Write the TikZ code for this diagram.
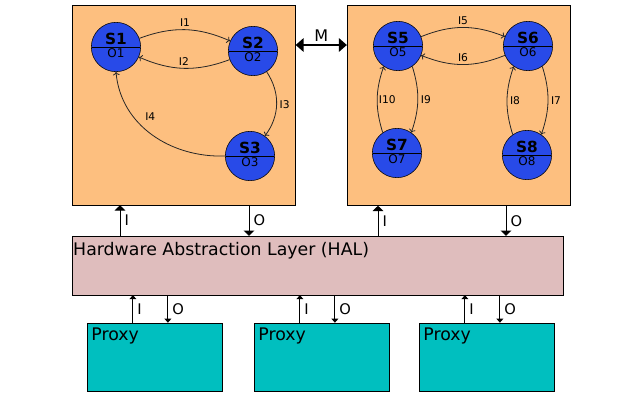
\documentclass[tikz,border=0pt]{standalone}
\usepackage{fontspec}
\setmainfont{DejaVu Sans}
\usepackage{tikz}
\usetikzlibrary{arrows.meta,shapes.multipart}
\definecolor{boxorange}{RGB}{253,191,127}
\definecolor{halpink}{RGB}{223,189,189}
\definecolor{proxycyan}{RGB}{0,191,191}
\definecolor{stateblue}{RGB}{40,74,232}
\tikzstyle{state}=[circle split,draw=black,fill=stateblue,thin,minimum size=37pt,inner sep=1.2pt,font=\fontsize{9}{9}\selectfont]
\tikzstyle{box}=[rectangle,draw=black,fill=boxorange,thin,minimum width=167pt,minimum height=150pt,inner sep=0pt]
\tikzstyle{halbox}=[rectangle,draw=black,fill=halpink,thin,minimum width=368pt,minimum height=44pt,inner sep=0pt]
\tikzstyle{proxybox}=[rectangle,draw=black,fill=proxycyan,thin,minimum width=101pt,minimum height=51pt,inner sep=0pt]
\tikzstyle{boxtext}=[anchor=north west,font=\fontsize{13}{13}\selectfont]
\tikzstyle{arr}=[-{To[length=2.5pt,width=5pt]},draw=black!85,line width=0.6pt]
\tikzstyle{elabel}=[font=\fontsize{8}{8}\selectfont,inner sep=2pt]
\tikzstyle{ioarr}=[-{Triangle[length=4pt,width=8pt]},draw=black,line width=0.75pt]
\tikzstyle{pioarr}=[-{Triangle[length=3pt,width=5pt]},draw=black,line width=0.75pt]
\tikzstyle{iolabel}=[font=\fontsize{11}{11}\selectfont,inner sep=3pt]
\tikzstyle{marr}=[{Triangle[length=6pt,width=10pt]}-{Triangle[length=6pt,width=10pt]},draw=black,line width=1.5pt]

\begin{document}
\begin{tikzpicture}[x=0.75pt,y=-0.75pt]
\useasboundingbox (0,0) rectangle (640,400);
  %Boxes
  \node[box]      (leftbox)   at (184,105)   {};
  \node[box]      (rightbox)  at (458.5,105.5) {};
  \node[halbox]   (hal)       at (317.5,265.5) {};
  \node[boxtext,inner xsep=0.8pt,inner ysep=4.8pt] (haltext) at (hal.north west) {Hardware Abstraction Layer (HAL)};
  \foreach \n/\x in {p1/154.5, p2/321.5, p3/486.5}{
    \node[proxybox] (\n) at (\x,357) {};
    \node[boxtext,inner xsep=3.2pt,inner ysep=3.6pt] (\n text) at (\n.north west) {Proxy};
  }
  %States
  \node[state]    (S1)        at (116,47)  {\fontsize{11.5}{11.5}\selectfont\bfseries S1\nodepart{lower}O1};
  \node[state]    (S2)        at (253,51)  {\fontsize{11.5}{11.5}\selectfont\bfseries S2\nodepart{lower}O2};
  \node[state]    (S3)        at (250,156) {\fontsize{11.5}{11.5}\selectfont\bfseries S3\nodepart{lower}O3};
  \node[state]    (S5)        at (398,46)  {\fontsize{11.5}{11.5}\selectfont\bfseries S5\nodepart{lower}O5};
  \node[state]    (S6)        at (528,46)  {\fontsize{11.5}{11.5}\selectfont\bfseries S6\nodepart{lower}O6};
  \node[state]    (S7)        at (397,153) {\fontsize{11.5}{11.5}\selectfont\bfseries S7\nodepart{lower}O7};
  \node[state]    (S8)        at (527,155) {\fontsize{11.5}{11.5}\selectfont\bfseries S8\nodepart{lower}O8};
  %Lines
  \draw[arr] (S1) to[bend left=22] node[elabel,above] {I1} (S2);
  \draw[arr] (S2) to[bend left=22] node[elabel,above] {I2} (S1);
  \draw[arr] (S2) to[bend left=35] node[elabel,right] {I3} (S3);
  \draw[arr] (S3.west) to[out=182,in=-85] node[elabel,pos=0.6,above right=1pt] {I4} (S1.south);
  \draw[arr] (S5) to[bend left=22] node[elabel,above] {I5} (S6);
  \draw[arr] (S6) to[bend left=22] node[elabel,above] {I6} (S5);
  \draw[arr] (S6.-55) to[bend left=18] node[elabel,right] {I7} (S8.55);
  \draw[arr] (S8.125) to[bend left=18] node[elabel,right] {I8} (S6.-125);
  \draw[arr] (S5.-55) to[bend left=18] node[elabel,right] {I9} (S7.55);
  \draw[arr] (S7.125) to[bend left=18] node[elabel,right,inner sep=1pt] {I10} (S5.-125);
  \coordinate (m) at (0,45);
  \draw[marr] (leftbox.east |- m) -- node[above,inner sep=2pt,font=\fontsize{12}{12}\selectfont] {M} (rightbox.west |- m);
  \foreach \xi/\xo/\b in {120/249/leftbox, 378/506/rightbox}{
    \coordinate (bi) at (\xi,0);
    \coordinate (bo) at (\xo,0);
    \draw[ioarr] (hal.north -| bi) -- node[iolabel,right] {I} (\b.south -| bi);
    \draw[ioarr] (\b.south -| bo) -- node[iolabel,right] {O} (hal.north -| bo);
  }
  \foreach \n in {p1,p2,p3}{
    \coordinate (pi) at ([xshift=46*0.75pt]\n.north west);
    \coordinate (po) at ([xshift=81*0.75pt]\n.north west);
    \draw[pioarr] (\n.north -| pi) -- node[iolabel,right] {I} (hal.south -| pi);
    \draw[pioarr] (hal.south -| po) -- node[iolabel,right] {O} (\n.north -| po);
  }
\end{tikzpicture}
\end{document}
